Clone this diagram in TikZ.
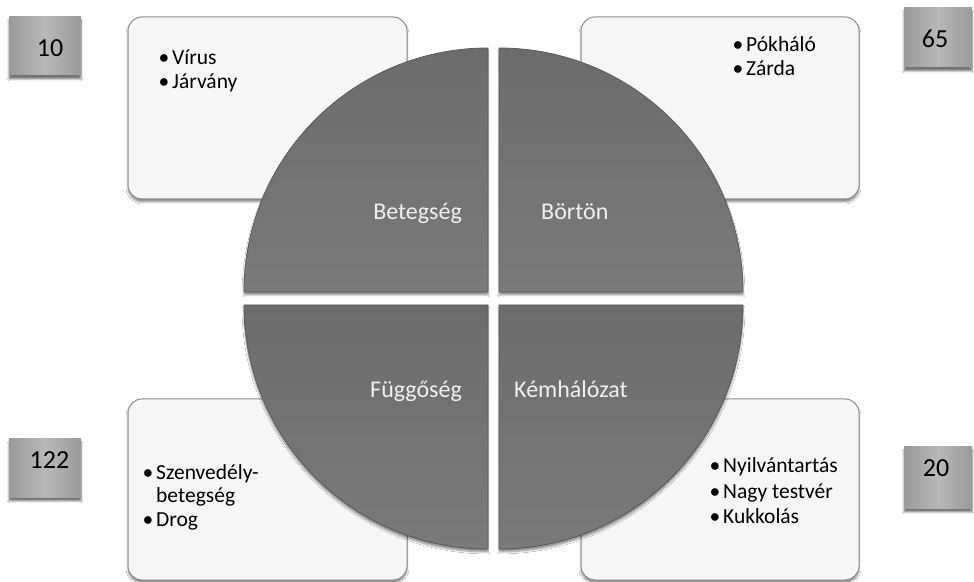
\documentclass[tikz,border=0pt]{standalone}
\usepackage{fontspec}
\setmainfont{Carlito}
\usetikzlibrary{shadows,shadows.blur}
\definecolor{quadtop}{HTML}{6C6C6C}
\definecolor{quadbot}{HTML}{7A7A7A}
\definecolor{quadedge}{HTML}{5A5A5A}
\definecolor{boxfill}{HTML}{F6F6F6}
\definecolor{boxedge}{HTML}{8C8C8C}
\definecolor{numside}{HTML}{9A9A9A}
\definecolor{nummid}{HTML}{B8B8B8}
\definecolor{labelcol}{HTML}{F0F0F0}
\begin{document}
\begin{tikzpicture}[x=1pt,y=1pt,
  infobox/.style={draw=boxedge, line width=1pt, fill=boxfill, rounded corners=14pt,
    minimum width=279pt, minimum height=182pt, inner sep=0pt,
    blur shadow={shadow xshift=0pt, shadow yshift=-3pt, shadow blur steps=6, shadow opacity=45}},
  numbox/.style={left color=numside, right color=numside, middle color=nummid,
    minimum width=70pt, minimum height=59pt, inner sep=0pt,
    blur shadow={shadow xshift=0pt, shadow yshift=-4pt, shadow blur steps=6, shadow opacity=55}},
  quadstyle/.style={top color=quadtop, bottom color=quadbot, draw=quadedge, line width=0.8pt,
    blur shadow={shadow xshift=0pt, shadow yshift=-3pt, shadow blur steps=6, shadow opacity=45}},
  numtext/.style={anchor=base, inner sep=0pt, font=\fontsize{26}{30}\selectfont, text=black},
  quadlabel/.style={inner sep=0pt, font=\fontsize{24}{28}\selectfont, text=labelcol},
  itemtext/.style={anchor=base west, inner sep=0pt, font=\fontsize{21.5}{24}\selectfont, text=black},
  bullettext/.style={anchor=base east, inner sep=0pt, font=\fontsize{21.5}{24}\selectfont, text=black}
]
\useasboundingbox (0,0) rectangle (974,581);
\fill[white] (0,0) rectangle (974,581);

% information boxes
\node[infobox] (tlbox) at (267.5,473) {};
\node[infobox, minimum width=278pt] (trbox) at (720,473) {};
\node[infobox, minimum height=181pt] (blbox) at (267.5,91.5) {};
\node[infobox, minimum width=278pt, minimum height=181pt] (brbox) at (720,91.5) {};

% number boxes
\node[numbox, minimum width=72pt, minimum height=58pt] (n10) at (45,535) {};
\node[numbox, minimum width=68pt] (n65) at (938,543.5) {};
\node[numbox, minimum width=72pt, minimum height=58pt] (n122) at (45,113) {};
\node[numbox, minimum width=68pt, minimum height=61pt] (n20) at (938,103.5) {};
\node[numtext] (t10) at (50,524) {10};
\node[numtext] (t65) at (935,533) {65};
\node[numtext] (t122) at (49.5,112) {122};
\node[numtext] (t20) at (936,104) {20};

% quadrants
\path[quadstyle] (488,289) -- ++(-244,0) arc[start angle=180, end angle=90, radius=244] -- cycle;
\path[quadstyle] (499,289) -- ++(0,244) arc[start angle=90, end angle=0, radius=244] -- cycle;
\path[quadstyle] (488,276) -- ++(-244,0) arc[start angle=180, end angle=270, radius=244] -- cycle;
\path[quadstyle] (499,276) -- ++(244,0) arc[start angle=0, end angle=-90, radius=244] -- cycle;

% quadrant labels
\node[quadlabel, anchor=base east] (lbet) at (462,361) {Betegség};
\node[quadlabel, anchor=base west] (lbor) at (541,361) {Börtön};
\node[quadlabel, anchor=base east] (lfug) at (462,183) {Függőség};
\node[quadlabel, anchor=base west] (lkem) at (514,183) {Kémhálózat};

% top-left list
\node[bullettext] (b1a) at (169.5,516) {•};
\node[itemtext] (i1a) at (172,516) {Vírus};
\node[bullettext] (b1b) at (169.5,492) {•};
\node[itemtext] (i1b) at (172,492) {Járvány};

% top-right list
\node[bullettext] (b2a) at (743.5,529) {•};
\node[itemtext] (i2a) at (746,529) {Pókháló};
\node[bullettext] (b2b) at (743.5,505) {•};
\node[itemtext] (i2b) at (746,505) {Zárda};

% bottom-left list
\node[bullettext] (b3a) at (153.5,101) {•};
\node[itemtext] (i3a) at (156,101) {Szenvedély-};
\node[itemtext] (i3b) at (156,79) {betegség};
\node[bullettext] (b3c) at (153.5,55) {•};
\node[itemtext] (i3c) at (156,55) {Drog};

% bottom-right list
\node[bullettext] (b4a) at (720.5,108) {•};
\node[itemtext] (i4a) at (723,108) {Nyilvántartás};
\node[bullettext] (b4b) at (720.5,83) {•};
\node[itemtext] (i4b) at (723,83) {Nagy testvér};
\node[bullettext] (b4c) at (720.5,58) {•};
\node[itemtext] (i4c) at (723,58) {Kukkolás};
\end{tikzpicture}
\end{document}
